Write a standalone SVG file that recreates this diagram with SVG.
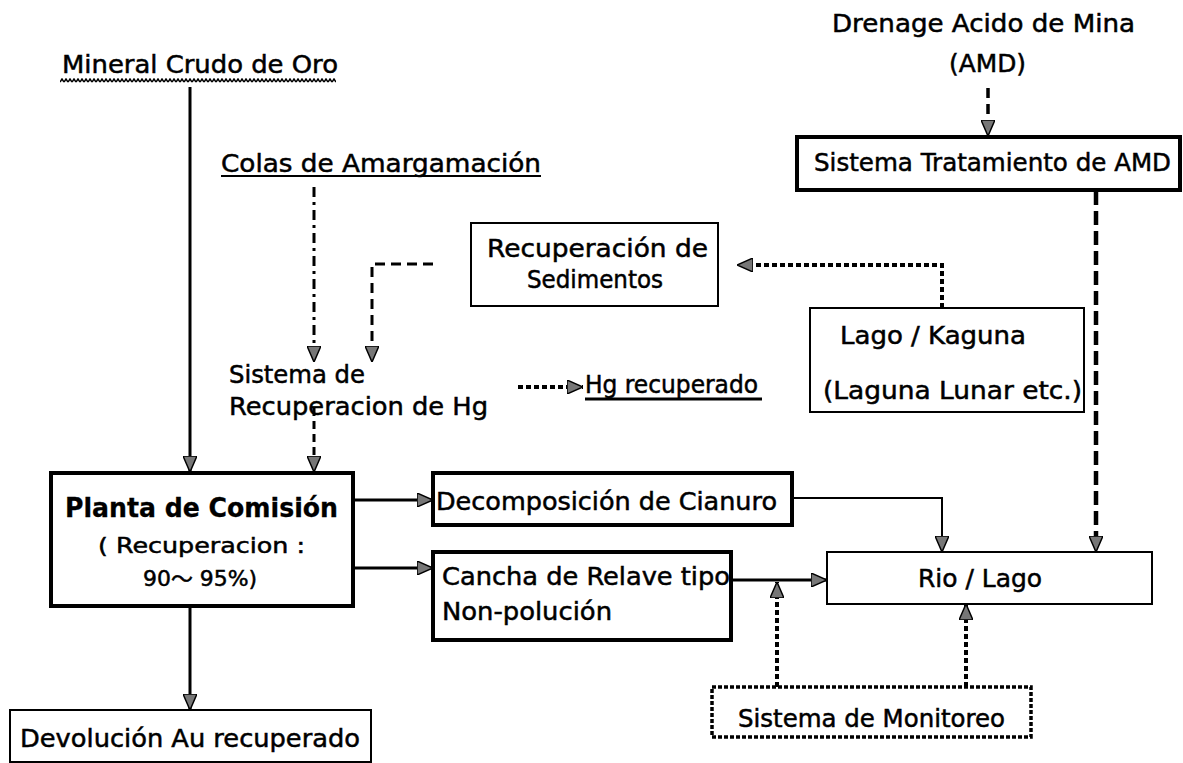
<svg xmlns="http://www.w3.org/2000/svg" width="1183" height="763" viewBox="0 0 1183 763">
<style>
text{font-family:"DejaVu Sans","Noto Sans CJK SC",sans-serif;font-size:24px;fill:#000;stroke:#000;stroke-width:0.5}
.sm{font-size:21px}
.b{font-weight:bold;font-size:26px;stroke-width:0.3}
.thick{fill:#fff;stroke:#000;stroke-width:4}
.thin{fill:#fff;stroke:#000;stroke-width:2}
.dotbox{fill:#fff;stroke:#000;stroke-width:3.5;stroke-dasharray:4 2}
.solid{fill:none;stroke:#000;stroke-width:3}
.solid2{fill:none;stroke:#000;stroke-width:2}
.dashdot{fill:none;stroke:#000;stroke-width:3;stroke-dasharray:10 5 3 5}
.dashed{fill:none;stroke:#000;stroke-width:3;stroke-dasharray:10 6}
.bigdash{fill:none;stroke:#000;stroke-width:4.5;stroke-dasharray:14 6}
.dotted{fill:none;stroke:#000;stroke-width:4;stroke-dasharray:5 3}
</style>
<defs>
<marker id="ah" markerUnits="userSpaceOnUse" markerWidth="16" markerHeight="14" viewBox="0 0 16 14" refX="16" refY="7" orient="auto">
<path d="M0,0 L16,7 L0,14 Z" fill="#777" stroke="#000" stroke-width="1.5"/>
</marker>
<pattern id="wave" patternUnits="userSpaceOnUse" x="60" y="78" width="4" height="5">
<path d="M0,4 L2,1 L4,4" fill="none" stroke="#000" stroke-width="1.5"/>
</pattern>
</defs>
<rect width="1183" height="763" fill="#fff"/>

<g id="connectors">
<path class="solid" d="M190,87 V472" marker-end="url(#ah)"/>
<path class="dashdot" d="M314,187 V362" marker-end="url(#ah)"/>
<path class="dashed" d="M433,264 H372 V362" marker-end="url(#ah)"/>
<path class="dashdot" style="stroke-dasharray:8 5" d="M314,408 V472" marker-end="url(#ah)"/>
<path class="dotted" d="M518,387 H583" marker-end="url(#ah)"/>
<path class="dotted" d="M942,308 V265 H737" marker-end="url(#ah)"/>
<path class="dashed" style="stroke-width:3.5" d="M988,88 V136" marker-end="url(#ah)"/>
<path class="bigdash" d="M1096,191 V552" marker-end="url(#ah)"/>
<path class="solid" d="M353,500 H433" marker-end="url(#ah)"/>
<path class="solid" d="M353,568 H433" marker-end="url(#ah)"/>
<path class="solid2" d="M792,498 H942 V552" marker-end="url(#ah)"/>
<path class="solid" d="M731,580 H827" marker-end="url(#ah)"/>
<path class="dotted" d="M777,687 V582" marker-end="url(#ah)"/>
<path class="dotted" d="M966,687 V604" marker-end="url(#ah)"/>
<path class="solid" d="M190,606 V710" marker-end="url(#ah)"/>
</g>

<g id="mineral">
<text x="62" y="73" textLength="276" lengthAdjust="spacingAndGlyphs">Mineral Crudo de Oro</text>
<rect x="60" y="78" width="276" height="5" fill="url(#wave)"/>
</g>

<g id="colas">
<text x="221" y="172" textLength="320" lengthAdjust="spacingAndGlyphs">Colas de Amargamación</text>
<line x1="221" y1="176" x2="541" y2="176" stroke="#000" stroke-width="1.8"/>
</g>

<g id="drenage">
<text x="832" y="32" textLength="303" lengthAdjust="spacingAndGlyphs">Drenage Acido de Mina</text>
<text x="949" y="72" textLength="77" lengthAdjust="spacingAndGlyphs">(AMD)</text>
</g>

<g id="amd">
<rect class="thick" x="797" y="137" width="383" height="53"/>
<text x="814" y="171" textLength="357" lengthAdjust="spacingAndGlyphs">Sistema Tratamiento de AMD</text>
</g>

<g id="sedimentos">
<rect class="thin" x="471" y="223" width="247" height="83"/>
<text x="487" y="257" textLength="221" lengthAdjust="spacingAndGlyphs">Recuperación de</text>
<text x="527" y="288" textLength="136" lengthAdjust="spacingAndGlyphs">Sedimentos</text>
</g>

<g id="lago">
<rect class="thin" x="810" y="308" width="274" height="104"/>
<text x="840" y="344" textLength="186" lengthAdjust="spacingAndGlyphs">Lago / Kaguna</text>
<text x="823" y="399" textLength="259" lengthAdjust="spacingAndGlyphs">(Laguna Lunar etc.)</text>
</g>

<g id="hg-sistema">
<text x="229" y="383" font-size="24" textLength="136" lengthAdjust="spacingAndGlyphs">Sistema de</text>
<text x="229" y="415" font-size="24" textLength="259" lengthAdjust="spacingAndGlyphs">Recuperacion de Hg</text>
</g>

<g id="hg-recuperado">
<text x="585" y="393" font-size="23" textLength="173" lengthAdjust="spacingAndGlyphs">Hg recuperado</text>
<line x1="585" y1="399" x2="762" y2="399" stroke="#000" stroke-width="3"/>
</g>

<g id="planta">
<rect class="thick" x="51" y="473" width="302" height="133"/>
<text class="b" x="65" y="517" textLength="273" lengthAdjust="spacingAndGlyphs">Planta de Comisión</text>
<text class="sm" x="98" y="553" textLength="207" lengthAdjust="spacingAndGlyphs">( Recuperacion :</text>
<text class="sm" x="143" y="586" textLength="114" lengthAdjust="spacingAndGlyphs">90～ 95%)</text>
</g>

<g id="cianuro">
<rect class="thick" x="433" y="473" width="359" height="52"/>
<text x="436" y="510" textLength="341" lengthAdjust="spacingAndGlyphs">Decomposición de Cianuro</text>
</g>

<g id="cancha">
<rect class="thick" x="433" y="552" width="298" height="88"/>
<text x="442" y="585" textLength="288" lengthAdjust="spacingAndGlyphs">Cancha de Relave tipo</text>
<text x="442" y="620" textLength="170" lengthAdjust="spacingAndGlyphs">Non-polución</text>
</g>

<g id="rio">
<rect class="thin" x="827" y="552" width="325" height="52"/>
<text x="918" y="587" textLength="124" lengthAdjust="spacingAndGlyphs">Rio / Lago</text>
</g>

<g id="monitoreo">
<rect class="dotbox" x="712" y="687" width="319" height="50"/>
<text x="738" y="727" textLength="267" lengthAdjust="spacingAndGlyphs">Sistema de Monitoreo</text>
</g>

<g id="devolucion">
<rect class="thin" x="10" y="710" width="361" height="52"/>
<text x="20" y="747" textLength="340" lengthAdjust="spacingAndGlyphs">Devolución Au recuperado</text>
</g>
</svg>
